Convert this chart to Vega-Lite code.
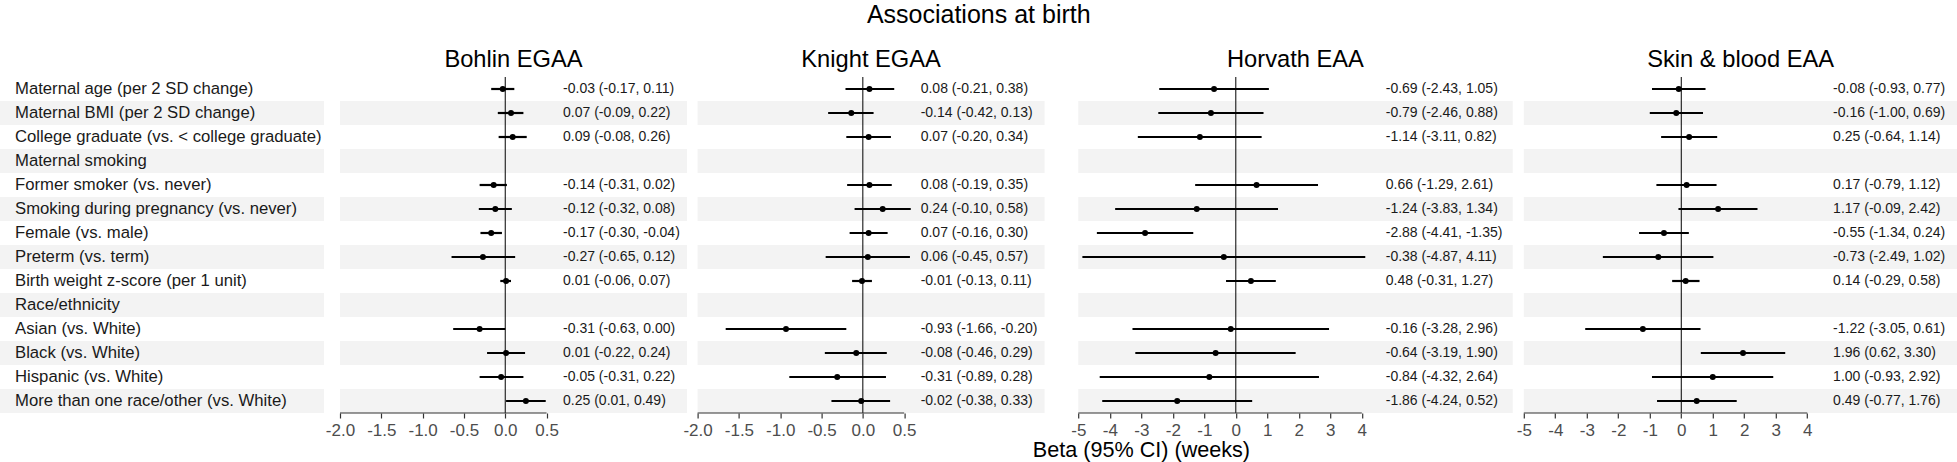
{
  "$schema": "https://vega.github.io/schema/vega-lite/v6.json",
  "padding": {"top": 3, "left": 0, "right": 0, "bottom": 0},
  "autosize": {"type": "pad"},
  "background": "white",
  "datasets": {
    "rows": [
      {"var": "age", "label": "Maternal age (per 2 SD change)"},
      {"var": "bmi", "label": "Maternal BMI (per 2 SD change)"},
      {"var": "college", "label": "College graduate (vs. < college graduate)"},
      {"var": "smoking", "label": "Maternal smoking"},
      {"var": "former", "label": "\u00a0\u00a0\u00a0\u00a0Former smoker (vs. never)"},
      {"var": "pregsmoke", "label": "\u00a0\u00a0\u00a0\u00a0Smoking during pregnancy (vs. never)"},
      {"var": "female", "label": "Female (vs. male)"},
      {"var": "preterm", "label": "Preterm (vs. term)"},
      {"var": "bw", "label": "Birth weight z-score (per 1 unit)"},
      {"var": "race", "label": "Race/ethnicity"},
      {"var": "asian", "label": "\u00a0\u00a0\u00a0\u00a0Asian (vs. White)"},
      {"var": "black", "label": "\u00a0\u00a0\u00a0\u00a0Black (vs. White)"},
      {"var": "hispanic", "label": "\u00a0\u00a0\u00a0\u00a0Hispanic (vs. White)"},
      {"var": "other", "label": "\u00a0\u00a0\u00a0\u00a0More than one race/other (vs. White)"}
    ],
    "est": [
      {"panel": "Bohlin EGAA", "var": "age", "est": -0.03, "lo": -0.17, "hi": 0.11, "ci": "-0.03 (-0.17, 0.11)"},
      {"panel": "Bohlin EGAA", "var": "bmi", "est": 0.07, "lo": -0.09, "hi": 0.22, "ci": "0.07 (-0.09, 0.22)"},
      {"panel": "Bohlin EGAA", "var": "college", "est": 0.09, "lo": -0.08, "hi": 0.26, "ci": "0.09 (-0.08, 0.26)"},
      {"panel": "Bohlin EGAA", "var": "former", "est": -0.14, "lo": -0.31, "hi": 0.02, "ci": "-0.14 (-0.31, 0.02)"},
      {"panel": "Bohlin EGAA", "var": "pregsmoke", "est": -0.12, "lo": -0.32, "hi": 0.08, "ci": "-0.12 (-0.32, 0.08)"},
      {"panel": "Bohlin EGAA", "var": "female", "est": -0.17, "lo": -0.30, "hi": -0.04, "ci": "-0.17 (-0.30, -0.04)"},
      {"panel": "Bohlin EGAA", "var": "preterm", "est": -0.27, "lo": -0.65, "hi": 0.12, "ci": "-0.27 (-0.65, 0.12)"},
      {"panel": "Bohlin EGAA", "var": "bw", "est": 0.01, "lo": -0.06, "hi": 0.07, "ci": "0.01 (-0.06, 0.07)"},
      {"panel": "Bohlin EGAA", "var": "asian", "est": -0.31, "lo": -0.63, "hi": 0.00, "ci": "-0.31 (-0.63, 0.00)"},
      {"panel": "Bohlin EGAA", "var": "black", "est": 0.01, "lo": -0.22, "hi": 0.24, "ci": "0.01 (-0.22, 0.24)"},
      {"panel": "Bohlin EGAA", "var": "hispanic", "est": -0.05, "lo": -0.31, "hi": 0.22, "ci": "-0.05 (-0.31, 0.22)"},
      {"panel": "Bohlin EGAA", "var": "other", "est": 0.25, "lo": 0.01, "hi": 0.49, "ci": "0.25 (0.01, 0.49)"},
      {"panel": "Knight EGAA", "var": "age", "est": 0.08, "lo": -0.21, "hi": 0.38, "ci": "0.08 (-0.21, 0.38)"},
      {"panel": "Knight EGAA", "var": "bmi", "est": -0.14, "lo": -0.42, "hi": 0.13, "ci": "-0.14 (-0.42, 0.13)"},
      {"panel": "Knight EGAA", "var": "college", "est": 0.07, "lo": -0.20, "hi": 0.34, "ci": "0.07 (-0.20, 0.34)"},
      {"panel": "Knight EGAA", "var": "former", "est": 0.08, "lo": -0.19, "hi": 0.35, "ci": "0.08 (-0.19, 0.35)"},
      {"panel": "Knight EGAA", "var": "pregsmoke", "est": 0.24, "lo": -0.10, "hi": 0.58, "ci": "0.24 (-0.10, 0.58)"},
      {"panel": "Knight EGAA", "var": "female", "est": 0.07, "lo": -0.16, "hi": 0.30, "ci": "0.07 (-0.16, 0.30)"},
      {"panel": "Knight EGAA", "var": "preterm", "est": 0.06, "lo": -0.45, "hi": 0.57, "ci": "0.06 (-0.45, 0.57)"},
      {"panel": "Knight EGAA", "var": "bw", "est": -0.01, "lo": -0.13, "hi": 0.11, "ci": "-0.01 (-0.13, 0.11)"},
      {"panel": "Knight EGAA", "var": "asian", "est": -0.93, "lo": -1.66, "hi": -0.20, "ci": "-0.93 (-1.66, -0.20)"},
      {"panel": "Knight EGAA", "var": "black", "est": -0.08, "lo": -0.46, "hi": 0.29, "ci": "-0.08 (-0.46, 0.29)"},
      {"panel": "Knight EGAA", "var": "hispanic", "est": -0.31, "lo": -0.89, "hi": 0.28, "ci": "-0.31 (-0.89, 0.28)"},
      {"panel": "Knight EGAA", "var": "other", "est": -0.02, "lo": -0.38, "hi": 0.33, "ci": "-0.02 (-0.38, 0.33)"},
      {"panel": "Horvath EAA", "var": "age", "est": -0.69, "lo": -2.43, "hi": 1.05, "ci": "-0.69 (-2.43, 1.05)"},
      {"panel": "Horvath EAA", "var": "bmi", "est": -0.79, "lo": -2.46, "hi": 0.88, "ci": "-0.79 (-2.46, 0.88)"},
      {"panel": "Horvath EAA", "var": "college", "est": -1.14, "lo": -3.11, "hi": 0.82, "ci": "-1.14 (-3.11, 0.82)"},
      {"panel": "Horvath EAA", "var": "former", "est": 0.66, "lo": -1.29, "hi": 2.61, "ci": "0.66 (-1.29, 2.61)"},
      {"panel": "Horvath EAA", "var": "pregsmoke", "est": -1.24, "lo": -3.83, "hi": 1.34, "ci": "-1.24 (-3.83, 1.34)"},
      {"panel": "Horvath EAA", "var": "female", "est": -2.88, "lo": -4.41, "hi": -1.35, "ci": "-2.88 (-4.41, -1.35)"},
      {"panel": "Horvath EAA", "var": "preterm", "est": -0.38, "lo": -4.87, "hi": 4.11, "ci": "-0.38 (-4.87, 4.11)"},
      {"panel": "Horvath EAA", "var": "bw", "est": 0.48, "lo": -0.31, "hi": 1.27, "ci": "0.48 (-0.31, 1.27)"},
      {"panel": "Horvath EAA", "var": "asian", "est": -0.16, "lo": -3.28, "hi": 2.96, "ci": "-0.16 (-3.28, 2.96)"},
      {"panel": "Horvath EAA", "var": "black", "est": -0.64, "lo": -3.19, "hi": 1.90, "ci": "-0.64 (-3.19, 1.90)"},
      {"panel": "Horvath EAA", "var": "hispanic", "est": -0.84, "lo": -4.32, "hi": 2.64, "ci": "-0.84 (-4.32, 2.64)"},
      {"panel": "Horvath EAA", "var": "other", "est": -1.86, "lo": -4.24, "hi": 0.52, "ci": "-1.86 (-4.24, 0.52)"},
      {"panel": "Skin & blood EAA", "var": "age", "est": -0.08, "lo": -0.93, "hi": 0.77, "ci": "-0.08 (-0.93, 0.77)"},
      {"panel": "Skin & blood EAA", "var": "bmi", "est": -0.16, "lo": -1.00, "hi": 0.69, "ci": "-0.16 (-1.00, 0.69)"},
      {"panel": "Skin & blood EAA", "var": "college", "est": 0.25, "lo": -0.64, "hi": 1.14, "ci": "0.25 (-0.64, 1.14)"},
      {"panel": "Skin & blood EAA", "var": "former", "est": 0.17, "lo": -0.79, "hi": 1.12, "ci": "0.17 (-0.79, 1.12)"},
      {"panel": "Skin & blood EAA", "var": "pregsmoke", "est": 1.17, "lo": -0.09, "hi": 2.42, "ci": "1.17 (-0.09, 2.42)"},
      {"panel": "Skin & blood EAA", "var": "female", "est": -0.55, "lo": -1.34, "hi": 0.24, "ci": "-0.55 (-1.34, 0.24)"},
      {"panel": "Skin & blood EAA", "var": "preterm", "est": -0.73, "lo": -2.49, "hi": 1.02, "ci": "-0.73 (-2.49, 1.02)"},
      {"panel": "Skin & blood EAA", "var": "bw", "est": 0.14, "lo": -0.29, "hi": 0.58, "ci": "0.14 (-0.29, 0.58)"},
      {"panel": "Skin & blood EAA", "var": "asian", "est": -1.22, "lo": -3.05, "hi": 0.61, "ci": "-1.22 (-3.05, 0.61)"},
      {"panel": "Skin & blood EAA", "var": "black", "est": 1.96, "lo": 0.62, "hi": 3.30, "ci": "1.96 (0.62, 3.30)"},
      {"panel": "Skin & blood EAA", "var": "hispanic", "est": 1.00, "lo": -0.93, "hi": 2.92, "ci": "1.00 (-0.93, 2.92)"},
      {"panel": "Skin & blood EAA", "var": "other", "est": 0.49, "lo": -0.77, "hi": 1.76, "ci": "0.49 (-0.77, 1.76)"}
    ]
  },
  "title": {"text": "Associations at birth", "fontSize": 25, "offset": 20, "anchor": "middle"},
  "spacing": 16,
  "bounds": "flush",
  "hconcat": [
    {
      "width": 324, "height": 336,
      "layer": [
        {"data": {"name": "rows"}, "transform": [{"window": [{"op": "row_number", "as": "rn"}]}, {"filter": "datum.rn % 2 == 0"}],
         "mark": {"type": "rect", "color": "#f3f3f3"},
         "encoding": {
           "y": {"field": "var", "type": "nominal", "scale": {"domain": ["age","bmi","college","smoking","former","pregsmoke","female","preterm","bw","race","asian","black","hispanic","other"], "paddingInner": 0, "paddingOuter": 0}, "axis": null},
           "x": {"datum": 0, "type": "quantitative", "scale": {"domain": [0, 1], "nice": false, "zero": false}, "axis": null},
           "x2": {"datum": 1}}},
        {"data": {"name": "rows"},
         "mark": {"type": "text", "align": "left", "baseline": "middle", "fontSize": 16.7, "color": "#1a1a1a", "dx": 15},
         "encoding": {
           "y": {"field": "var", "type": "nominal", "scale": {"domain": ["age","bmi","college","smoking","former","pregsmoke","female","preterm","bw","race","asian","black","hispanic","other"], "paddingInner": 0, "paddingOuter": 0}, "axis": null},
           "x": {"datum": 0, "type": "quantitative", "axis": null},
           "text": {"field": "label"}}}
      ]
    },
    {
      "title": {"text": "Beta (95% CI) (weeks)", "orient": "bottom", "fontSize": 21.6, "offset": 1, "anchor": "middle"},
      "spacing": 10.6,
      "bounds": "flush",
      "hconcat": [
        {
          "width": 347, "height": 336,
          "title": {"text": "Bohlin EGAA", "fontSize": 23.7, "offset": 4.5},
          "layer": [
            {"data": {"name": "rows"}, "transform": [{"window": [{"op": "row_number", "as": "rn"}]}, {"filter": "datum.rn % 2 == 0"}],
             "mark": {"type": "rect", "color": "#f3f3f3"},
             "encoding": {
               "y": {"field": "var", "type": "nominal", "scale": {"domain": ["age","bmi","college","smoking","former","pregsmoke","female","preterm","bw","race","asian","black","hispanic","other"], "paddingInner": 0, "paddingOuter": 0}, "axis": null},
               "x": {"datum": -2, "type": "quantitative", "scale": {"domain": [-2, 2.2], "nice": false, "zero": false}, "axis": {"values": [-2, -1.5, -1, -0.5, 0, 0.5], "format": ".1f", "labelExpr": "replace(datum.label, '−', '-')", "title": null}},
               "x2": {"datum": 2.2}}},
            {"data": {"values": [{}]}, "mark": {"type": "rule", "color": "#000", "strokeWidth": 1},
             "encoding": {"x": {"datum": 0, "type": "quantitative", "axis": {"values": [-2, -1.5, -1, -0.5, 0, 0.5], "format": ".1f", "labelExpr": "replace(datum.label, '−', '-')", "title": null}}}},
            {"data": {"values": [{}]}, "mark": {"type": "rule", "color": "#333", "strokeWidth": 1.2},
             "encoding": {"x": {"datum": -2, "type": "quantitative", "axis": {"values": [-2, -1.5, -1, -0.5, 0, 0.5], "format": ".1f", "labelExpr": "replace(datum.label, '−', '-')", "title": null}}, "x2": {"datum": 0.5}, "y": {"value": "height"}}},
            {"data": {"name": "est"}, "transform": [{"filter": "datum.panel == 'Bohlin EGAA'"}],
             "mark": {"type": "rule", "color": "#000", "strokeWidth": 2.2},
             "encoding": {
               "y": {"field": "var", "type": "nominal", "scale": {"domain": ["age","bmi","college","smoking","former","pregsmoke","female","preterm","bw","race","asian","black","hispanic","other"], "paddingInner": 0, "paddingOuter": 0}, "axis": null},
               "x": {"field": "lo", "type": "quantitative", "axis": {"values": [-2, -1.5, -1, -0.5, 0, 0.5], "format": ".1f", "labelExpr": "replace(datum.label, '−', '-')", "title": null}},
               "x2": {"field": "hi"}}},
            {"data": {"name": "est"}, "transform": [{"filter": "datum.panel == 'Bohlin EGAA'"}],
             "mark": {"type": "circle", "color": "#000", "size": 36, "opacity": 1},
             "encoding": {
               "y": {"field": "var", "type": "nominal", "scale": {"domain": ["age","bmi","college","smoking","former","pregsmoke","female","preterm","bw","race","asian","black","hispanic","other"], "paddingInner": 0, "paddingOuter": 0}, "axis": null},
               "x": {"field": "est", "type": "quantitative", "axis": {"values": [-2, -1.5, -1, -0.5, 0, 0.5], "format": ".1f", "labelExpr": "replace(datum.label, '−', '-')", "title": null}}}},
            {"data": {"name": "est"}, "transform": [{"filter": "datum.panel == 'Bohlin EGAA'"}],
             "mark": {"type": "text", "align": "left", "baseline": "middle", "fontSize": 14, "color": "#1a1a1a"},
             "encoding": {
               "y": {"field": "var", "type": "nominal", "scale": {"domain": ["age","bmi","college","smoking","former","pregsmoke","female","preterm","bw","race","asian","black","hispanic","other"], "paddingInner": 0, "paddingOuter": 0}, "axis": null},
               "x": {"datum": 0.7, "type": "quantitative", "axis": {"values": [-2, -1.5, -1, -0.5, 0, 0.5], "format": ".1f", "labelExpr": "replace(datum.label, '−', '-')", "title": null}},
               "text": {"field": "ci"}}}
          ]
        },
        {
          "width": 347, "height": 336,
          "title": {"text": "Knight EGAA", "fontSize": 23.7, "offset": 4.5},
          "layer": [
            {"data": {"name": "rows"}, "transform": [{"window": [{"op": "row_number", "as": "rn"}]}, {"filter": "datum.rn % 2 == 0"}],
             "mark": {"type": "rect", "color": "#f3f3f3"},
             "encoding": {
               "y": {"field": "var", "type": "nominal", "scale": {"domain": ["age","bmi","college","smoking","former","pregsmoke","female","preterm","bw","race","asian","black","hispanic","other"], "paddingInner": 0, "paddingOuter": 0}, "axis": null},
               "x": {"datum": -2, "type": "quantitative", "scale": {"domain": [-2, 2.2], "nice": false, "zero": false}, "axis": {"values": [-2, -1.5, -1, -0.5, 0, 0.5], "format": ".1f", "labelExpr": "replace(datum.label, '−', '-')", "title": null}},
               "x2": {"datum": 2.2}}},
            {"data": {"values": [{}]}, "mark": {"type": "rule", "color": "#000", "strokeWidth": 1},
             "encoding": {"x": {"datum": 0, "type": "quantitative", "axis": {"values": [-2, -1.5, -1, -0.5, 0, 0.5], "format": ".1f", "labelExpr": "replace(datum.label, '−', '-')", "title": null}}}},
            {"data": {"values": [{}]}, "mark": {"type": "rule", "color": "#333", "strokeWidth": 1.2},
             "encoding": {"x": {"datum": -2, "type": "quantitative", "axis": {"values": [-2, -1.5, -1, -0.5, 0, 0.5], "format": ".1f", "labelExpr": "replace(datum.label, '−', '-')", "title": null}}, "x2": {"datum": 0.5}, "y": {"value": "height"}}},
            {"data": {"name": "est"}, "transform": [{"filter": "datum.panel == 'Knight EGAA'"}],
             "mark": {"type": "rule", "color": "#000", "strokeWidth": 2.2},
             "encoding": {
               "y": {"field": "var", "type": "nominal", "scale": {"domain": ["age","bmi","college","smoking","former","pregsmoke","female","preterm","bw","race","asian","black","hispanic","other"], "paddingInner": 0, "paddingOuter": 0}, "axis": null},
               "x": {"field": "lo", "type": "quantitative", "axis": {"values": [-2, -1.5, -1, -0.5, 0, 0.5], "format": ".1f", "labelExpr": "replace(datum.label, '−', '-')", "title": null}},
               "x2": {"field": "hi"}}},
            {"data": {"name": "est"}, "transform": [{"filter": "datum.panel == 'Knight EGAA'"}],
             "mark": {"type": "circle", "color": "#000", "size": 36, "opacity": 1},
             "encoding": {
               "y": {"field": "var", "type": "nominal", "scale": {"domain": ["age","bmi","college","smoking","former","pregsmoke","female","preterm","bw","race","asian","black","hispanic","other"], "paddingInner": 0, "paddingOuter": 0}, "axis": null},
               "x": {"field": "est", "type": "quantitative", "axis": {"values": [-2, -1.5, -1, -0.5, 0, 0.5], "format": ".1f", "labelExpr": "replace(datum.label, '−', '-')", "title": null}}}},
            {"data": {"name": "est"}, "transform": [{"filter": "datum.panel == 'Knight EGAA'"}],
             "mark": {"type": "text", "align": "left", "baseline": "middle", "fontSize": 14, "color": "#1a1a1a"},
             "encoding": {
               "y": {"field": "var", "type": "nominal", "scale": {"domain": ["age","bmi","college","smoking","former","pregsmoke","female","preterm","bw","race","asian","black","hispanic","other"], "paddingInner": 0, "paddingOuter": 0}, "axis": null},
               "x": {"datum": 0.7, "type": "quantitative", "axis": {"values": [-2, -1.5, -1, -0.5, 0, 0.5], "format": ".1f", "labelExpr": "replace(datum.label, '−', '-')", "title": null}},
               "text": {"field": "ci"}}}
          ]
        },
        {
          "width": 457.5, "height": 336,
          "title": {"text": "Horvath EAA", "fontSize": 23.7, "offset": 4.5, "anchor": "middle", "dx": 11.5},
          "layer": [
            {"data": {"name": "rows"}, "transform": [{"window": [{"op": "row_number", "as": "rn"}]}, {"filter": "datum.rn % 2 == 0"}],
             "mark": {"type": "rect", "color": "#f3f3f3"},
             "encoding": {
               "y": {"field": "var", "type": "nominal", "scale": {"domain": ["age","bmi","college","smoking","former","pregsmoke","female","preterm","bw","race","asian","black","hispanic","other"], "paddingInner": 0, "paddingOuter": 0}, "axis": null},
               "x": {"datum": -5, "type": "quantitative", "scale": {"domain": [-5.733, 8.79], "nice": false, "zero": false}, "axis": {"values": [-5, -4, -3, -2, -1, 0, 1, 2, 3, 4], "format": "d", "labelExpr": "replace(datum.label, '−', '-')", "title": null}},
               "x2": {"datum": 8.79}}},
            {"data": {"values": [{}]}, "mark": {"type": "rule", "color": "#000", "strokeWidth": 1},
             "encoding": {"x": {"datum": 0, "type": "quantitative", "axis": {"values": [-5, -4, -3, -2, -1, 0, 1, 2, 3, 4], "format": "d", "labelExpr": "replace(datum.label, '−', '-')", "title": null}}}},
            {"data": {"values": [{}]}, "mark": {"type": "rule", "color": "#333", "strokeWidth": 1.2},
             "encoding": {"x": {"datum": -5, "type": "quantitative", "axis": {"values": [-5, -4, -3, -2, -1, 0, 1, 2, 3, 4], "format": "d", "labelExpr": "replace(datum.label, '−', '-')", "title": null}}, "x2": {"datum": 4}, "y": {"value": "height"}}},
            {"data": {"name": "est"}, "transform": [{"filter": "datum.panel == 'Horvath EAA'"}],
             "mark": {"type": "rule", "color": "#000", "strokeWidth": 2.2},
             "encoding": {
               "y": {"field": "var", "type": "nominal", "scale": {"domain": ["age","bmi","college","smoking","former","pregsmoke","female","preterm","bw","race","asian","black","hispanic","other"], "paddingInner": 0, "paddingOuter": 0}, "axis": null},
               "x": {"field": "lo", "type": "quantitative", "axis": {"values": [-5, -4, -3, -2, -1, 0, 1, 2, 3, 4], "format": "d", "labelExpr": "replace(datum.label, '−', '-')", "title": null}},
               "x2": {"field": "hi"}}},
            {"data": {"name": "est"}, "transform": [{"filter": "datum.panel == 'Horvath EAA'"}],
             "mark": {"type": "circle", "color": "#000", "size": 36, "opacity": 1},
             "encoding": {
               "y": {"field": "var", "type": "nominal", "scale": {"domain": ["age","bmi","college","smoking","former","pregsmoke","female","preterm","bw","race","asian","black","hispanic","other"], "paddingInner": 0, "paddingOuter": 0}, "axis": null},
               "x": {"field": "est", "type": "quantitative", "axis": {"values": [-5, -4, -3, -2, -1, 0, 1, 2, 3, 4], "format": "d", "labelExpr": "replace(datum.label, '−', '-')", "title": null}}}},
            {"data": {"name": "est"}, "transform": [{"filter": "datum.panel == 'Horvath EAA'"}],
             "mark": {"type": "text", "align": "left", "baseline": "middle", "fontSize": 14, "color": "#1a1a1a"},
             "encoding": {
               "y": {"field": "var", "type": "nominal", "scale": {"domain": ["age","bmi","college","smoking","former","pregsmoke","female","preterm","bw","race","asian","black","hispanic","other"], "paddingInner": 0, "paddingOuter": 0}, "axis": null},
               "x": {"datum": 4.76, "type": "quantitative", "axis": {"values": [-5, -4, -3, -2, -1, 0, 1, 2, 3, 4], "format": "d", "labelExpr": "replace(datum.label, '−', '-')", "title": null}},
               "text": {"field": "ci"}}}
          ]
        },
        {
          "width": 433.7, "height": 336,
          "title": {"text": "Skin & blood EAA", "fontSize": 23.7, "offset": 4.5},
          "layer": [
            {"data": {"name": "rows"}, "transform": [{"window": [{"op": "row_number", "as": "rn"}]}, {"filter": "datum.rn % 2 == 0"}],
             "mark": {"type": "rect", "color": "#f3f3f3"},
             "encoding": {
               "y": {"field": "var", "type": "nominal", "scale": {"domain": ["age","bmi","college","smoking","former","pregsmoke","female","preterm","bw","race","asian","black","hispanic","other"], "paddingInner": 0, "paddingOuter": 0}, "axis": null},
               "x": {"datum": -5, "type": "quantitative", "scale": {"domain": [-5, 8.77], "nice": false, "zero": false}, "axis": {"values": [-5, -4, -3, -2, -1, 0, 1, 2, 3, 4], "format": "d", "labelExpr": "replace(datum.label, '−', '-')", "title": null}},
               "x2": {"datum": 8.77}}},
            {"data": {"values": [{}]}, "mark": {"type": "rule", "color": "#000", "strokeWidth": 1},
             "encoding": {"x": {"datum": 0, "type": "quantitative", "axis": {"values": [-5, -4, -3, -2, -1, 0, 1, 2, 3, 4], "format": "d", "labelExpr": "replace(datum.label, '−', '-')", "title": null}}}},
            {"data": {"values": [{}]}, "mark": {"type": "rule", "color": "#333", "strokeWidth": 1.2},
             "encoding": {"x": {"datum": -5, "type": "quantitative", "axis": {"values": [-5, -4, -3, -2, -1, 0, 1, 2, 3, 4], "format": "d", "labelExpr": "replace(datum.label, '−', '-')", "title": null}}, "x2": {"datum": 4}, "y": {"value": "height"}}},
            {"data": {"name": "est"}, "transform": [{"filter": "datum.panel == 'Skin & blood EAA'"}],
             "mark": {"type": "rule", "color": "#000", "strokeWidth": 2.2},
             "encoding": {
               "y": {"field": "var", "type": "nominal", "scale": {"domain": ["age","bmi","college","smoking","former","pregsmoke","female","preterm","bw","race","asian","black","hispanic","other"], "paddingInner": 0, "paddingOuter": 0}, "axis": null},
               "x": {"field": "lo", "type": "quantitative", "axis": {"values": [-5, -4, -3, -2, -1, 0, 1, 2, 3, 4], "format": "d", "labelExpr": "replace(datum.label, '−', '-')", "title": null}},
               "x2": {"field": "hi"}}},
            {"data": {"name": "est"}, "transform": [{"filter": "datum.panel == 'Skin & blood EAA'"}],
             "mark": {"type": "circle", "color": "#000", "size": 36, "opacity": 1},
             "encoding": {
               "y": {"field": "var", "type": "nominal", "scale": {"domain": ["age","bmi","college","smoking","former","pregsmoke","female","preterm","bw","race","asian","black","hispanic","other"], "paddingInner": 0, "paddingOuter": 0}, "axis": null},
               "x": {"field": "est", "type": "quantitative", "axis": {"values": [-5, -4, -3, -2, -1, 0, 1, 2, 3, 4], "format": "d", "labelExpr": "replace(datum.label, '−', '-')", "title": null}}}},
            {"data": {"name": "est"}, "transform": [{"filter": "datum.panel == 'Skin & blood EAA'"}],
             "mark": {"type": "text", "align": "left", "baseline": "middle", "fontSize": 14, "color": "#1a1a1a"},
             "encoding": {
               "y": {"field": "var", "type": "nominal", "scale": {"domain": ["age","bmi","college","smoking","former","pregsmoke","female","preterm","bw","race","asian","black","hispanic","other"], "paddingInner": 0, "paddingOuter": 0}, "axis": null},
               "x": {"datum": 4.82, "type": "quantitative", "axis": {"values": [-5, -4, -3, -2, -1, 0, 1, 2, 3, 4], "format": "d", "labelExpr": "replace(datum.label, '−', '-')", "title": null}},
               "text": {"field": "ci"}}}
          ]
        }
      ]
    }
  ],
  "config": {
    "font": "Liberation Sans",
    "view": {"stroke": null},
    "title": {"font": "Liberation Sans", "fontWeight": "normal", "color": "#000"},
    "axisX": {"grid": false, "domain": false, "ticks": true, "tickColor": "#333", "tickWidth": 1.2, "tickSize": 5, "labelFont": "Liberation Sans", "labelFontSize": 17, "labelColor": "#4d4d4d", "labelPadding": 4.5, "labelFlush": false, "labelOverlap": false, "labelBound": false}
  }
}
